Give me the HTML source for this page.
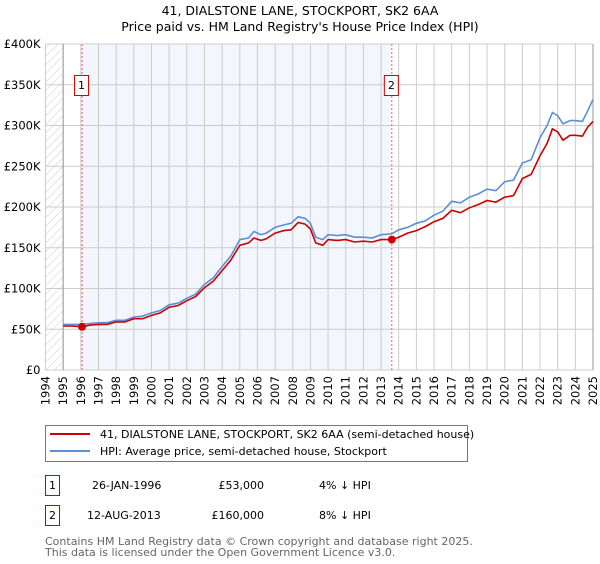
<!DOCTYPE html>
<html><head><meta charset="utf-8"><style>
body{margin:0;background:#fff;font-family:"DejaVu Sans","Liberation Sans",sans-serif;}
svg text{font-family:"DejaVu Sans","Liberation Sans",sans-serif;}
</style></head><body>
<svg id="chart" width="600" height="560" xmlns="http://www.w3.org/2000/svg">
<defs><pattern id="hatch" width="6" height="6" patternUnits="userSpaceOnUse" patternTransform="rotate(45)"><line x1="0" y1="0" x2="0" y2="6" stroke="#ccc" stroke-width="1"/></pattern></defs>
<text x="300" y="15" text-anchor="middle" font-size="12.5">41, DIALSTONE LANE, STOCKPORT, SK2 6AA</text>
<text x="300" y="31" text-anchor="middle" font-size="12.5">Price paid vs. HM Land Registry's House Price Index (HPI)</text>
<g id="plot"></g>
<g>
<rect x="45.5" y="425.5" width="422" height="36" fill="#fff" stroke="#777"/>
<line x1="50" y1="434" x2="90" y2="434" stroke="#cc0000" stroke-width="2"/>
<text x="100" y="438" font-size="11">41, DIALSTONE LANE, STOCKPORT, SK2 6AA (semi-detached house)</text>
<line x1="50" y1="451" x2="90" y2="451" stroke="#5b8fd4" stroke-width="2"/>
<text x="100" y="455" font-size="11">HPI: Average price, semi-detached house, Stockport</text>
</g>
<g font-size="11">
<rect x="45.5" y="475.5" width="14" height="20" fill="#fff" stroke="#cc0000"/>
<text x="52.5" y="489" text-anchor="middle">1</text>
<text x="92" y="489">26-JAN-1996</text><text x="264" y="489" text-anchor="end">£53,000</text><text x="319" y="489">4% ↓ HPI</text>
<rect x="45.5" y="505.5" width="14" height="20" fill="#fff" stroke="#cc0000"/>
<text x="52.5" y="519" text-anchor="middle">2</text>
<text x="87" y="519">12-AUG-2013</text><text x="264" y="519" text-anchor="end">£160,000</text><text x="319" y="519">8% ↓ HPI</text>
</g>
<text x="45" y="545" font-size="11" fill="#666">Contains HM Land Registry data © Crown copyright and database right 2025.</text>
<text x="45" y="556" font-size="11" fill="#666">This data is licensed under the Open Government Licence v3.0.</text>
</svg>
<script>
const hpiYears=[1995,1995.5,1996,1996.5,1997,1997.5,1998,1998.5,1999,1999.5,2000,2000.5,2001,2001.5,2002,2002.5,2003,2003.5,2004,2004.5,2005,2005.5,2005.8,2006.2,2006.5,2007,2007.5,2007.9,2008.3,2008.7,2009.0,2009.3,2009.7,2010,2010.5,2011,2011.5,2012,2012.5,2013,2013.6,2014,2014.5,2015,2015.5,2016,2016.5,2017,2017.5,2018,2018.5,2019,2019.5,2020,2020.5,2021,2021.5,2022,2022.4,2022.7,2023,2023.3,2023.7,2024,2024.4,2024.7,2025];
const hpiValues=[56,56,56,57,58,58,61,61,65,66,70,73,80,82,88,93,105,113,127,140,160,162,170,166,168,175,178,180,188,186,180,163,160,166,165,166,163,163,162,166,167,172,175,180,183,190,195,207,205,212,216,222,220,231,233,254,258,285,300,316,312,302,306,306,305,318,332];
const priceYears=[1995,1995.5,1996.07,1996.5,1997,1997.5,1998,1998.5,1999,1999.5,2000,2000.5,2001,2001.5,2002,2002.5,2003,2003.5,2004,2004.5,2005,2005.5,2005.8,2006.2,2006.5,2007,2007.5,2007.9,2008.3,2008.7,2009.0,2009.3,2009.7,2010,2010.5,2011,2011.5,2012,2012.5,2013,2013.61,2014,2014.5,2015,2015.5,2016,2016.5,2017,2017.5,2018,2018.5,2019,2019.5,2020,2020.5,2021,2021.5,2022,2022.4,2022.7,2023,2023.3,2023.7,2024,2024.4,2024.7,2025];
const priceValues=[54,54,53,55,56,56,59,59,63,63,67,70,77,79,85,90,101,109,122,135,153,156,162,159,161,168,171,172,181,179,173,156,153,160,159,160,157,158,157,160,160,163,168,171,176,182,186,196,193,199,203,208,206,212,214,235,240,263,278,296,292,282,288,288,287,298,305];
const yTicks=[0,50,100,150,200,250,300,350,400];
const yTickLabels=["£0","£50K","£100K","£150K","£200K","£250K","£300K","£350K","£400K"];
const xTicks=[1994,1995,1996,1997,1998,1999,2000,2001,2002,2003,2004,2005,2006,2007,2008,2009,2010,2011,2012,2013,2014,2015,2016,2017,2018,2019,2020,2021,2022,2023,2024,2025];
const saleYears=[1996.07,2013.61];
const saleValues=[53,160];
const saleLabels=["1","2"];

const L=45.5,R=593,T=44,B=370;
const x=v=>L+(v-1994)/(2025-1994)*(R-L);
const y=v=>B-v/400*(B-T);
const NS="http://www.w3.org/2000/svg";
const g=document.getElementById('plot');
function mk(t,a){const e=document.createElementNS(NS,t);for(const k in a)e.setAttribute(k,a[k]);g.appendChild(e);return e;}
let e;
e=mk('rect',{x:L,y:T,width:R-L,height:B-T,fill:'#fff'});


e=mk('rect',{x:x(saleYears[0]),y:T,width:x(saleYears[1])-x(saleYears[0]),height:B-T,fill:'#f3f6fd'});


e=mk('rect',{x:L,y:T,width:x(1995)-L,height:B-T,fill:'url(#hatch)'});


xTicks.forEach(t=>{e=mk('line',{x1:x(t),x2:x(t),y1:T,y2:B,stroke:'#ccc','stroke-width':1});


const tx=mk('text',{x:0,y:0,'font-size':11.5,'text-anchor':'end',transform:`translate(${x(t)+4},${B+6}) rotate(-90)`});tx.textContent=t;

});
yTicks.forEach((t,i)=>{e=mk('line',{x1:L,x2:R,y1:y(t),y2:y(t),stroke:'#ccc','stroke-width':1});


const tx=mk('text',{x:L-5,y:y(t)+4,'font-size':11.5,'text-anchor':'end'});tx.textContent=yTickLabels[i];

});
e=mk('line',{x1:x(1995),x2:x(1995),y1:T,y2:B,stroke:'#999'});


e=mk('line',{x1:R,x2:R,y1:T,y2:B,stroke:'#999'});


saleYears.forEach((s,i)=>{e=mk('line',{x1:x(s),x2:x(s),y1:T,y2:B,stroke:'#f06060','stroke-dasharray':'2,2'});


const bx=x(s)-7;e=mk('rect',{x:bx-0.5,y:75.5,width:14,height:20,fill:'#fff',stroke:'#cc0000'});


const tx=mk('text',{x:x(s)-0.5,y:89,'font-size':11,'text-anchor':'middle'});tx.textContent=saleLabels[i];

});
function line(xs,vs,c,n){const d=xs.map((a,i)=>(i?'L':'M')+x(a).toFixed(1)+','+y(vs[i]).toFixed(1)).join('');
e=mk('path',{d:d,fill:'none',stroke:c,'stroke-width':1.6});

}
line(hpiYears,hpiValues,'#5b8fd4','hpi-line');
line(priceYears,priceValues,'#cc0000','price-line');
saleYears.forEach((s,i)=>{e=mk('circle',{cx:x(s),cy:y(saleValues[i]),r:4,fill:'#cc0000'});

});
</script>
</body></html>
